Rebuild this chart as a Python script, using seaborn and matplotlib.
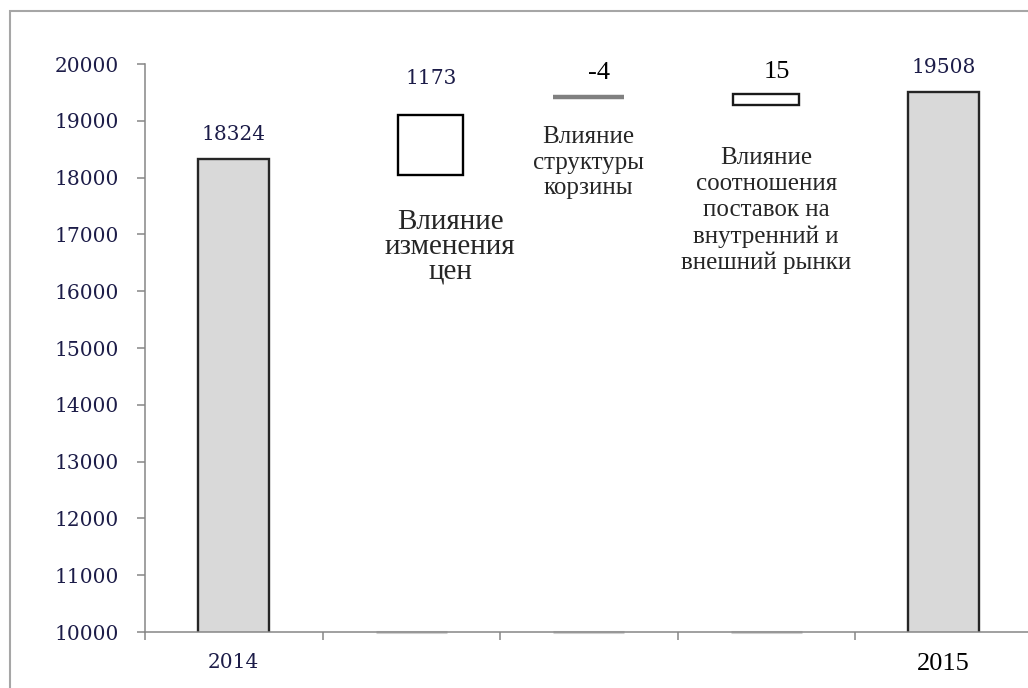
import numpy as np
import seaborn as sns
import pandas as pd
import matplotlib.pyplot as plt
from matplotlib.patches import Rectangle

# data
categories = ['2014', 'price', 'structure', 'ratio', '2015']
totals = [18324, 0, 0, 0, 19508]
effects = [1173, -4, 15]
effect_labels = ['Влияние\nизменения\nцен',
                 'Влияние\nструктуры\nкорзины',
                 'Влияние\nсоотношения\nпоставок на\nвнутренний и\nвнешний рынки']
# where the floating markers sit on the value axis (as drawn in the picture)
float_bottom = [18046, 19421, 19278]
float_top = [19102, 19417, 19472]

NAVY = '#1c1c48'
GRID = '#868686'

sns.set_style('white')
fig = plt.figure(figsize=(10.28, 6.88), dpi=100)
ax = fig.add_axes([145 / 1028, 56 / 688, 887.5 / 1028, 568 / 688])

df = pd.DataFrame({'cat': categories, 'val': totals})
sns.barplot(data=df, x='cat', y='val', order=categories, width=0.4,
            color='#d9d9d9', saturation=1, edgecolor='#262626',
            linewidth=1.7, ax=ax)

# floating effect markers
fx = [1.108, 2.0, 3.0]
fw = [0.366, 0.40, 0.37]
fb = np.array(float_bottom)
ft = np.array(float_top)
ax.bar(fx[0], ft[0] - fb[0], bottom=fb[0], width=fw[0], color='white',
       edgecolor='black', linewidth=1.7, zorder=3)
ax.bar(fx[1], ft[1] - fb[1], bottom=fb[1], width=fw[1], color='#808080',
       edgecolor='#808080', linewidth=3.2, zorder=3)
ax.bar(fx[2], ft[2] - fb[2], bottom=fb[2], width=fw[2], color='white',
       edgecolor='#1a1a1a', linewidth=1.7, zorder=3)

# empty base series sitting on the axis
ax.bar([1, 2, 3], [0, 0, 0], bottom=10000, width=0.4, color='none',
       edgecolor='#d0d0d0', linewidth=2.2, clip_on=False, zorder=1)

ax.set_ylim(10000, 20000)
ax.set_xlim(-0.5, 4.5)
ax.set_yticks(np.arange(10000, 20001, 1000))
ax.set_xticks(range(5))
ax.set_xticklabels(['2014', '', '', '', '2015'])
ax.set_xticks(np.arange(-0.5, 4.6, 1), minor=True)
ax.set_xlabel('')
ax.set_ylabel('')

for s in ['top', 'right']:
    ax.spines[s].set_visible(False)
for s in ['left', 'bottom']:
    ax.spines[s].set_color(GRID)
    ax.spines[s].set_linewidth(1.1)

ax.tick_params(axis='y', which='major', direction='out', length=6, width=1.1,
               color=GRID, pad=13, labelsize=14.5, labelcolor=NAVY, left=True)
ax.tick_params(axis='x', which='major', length=0, pad=15)
ax.tick_params(axis='x', which='minor', direction='out', length=6, width=1.1,
               color=GRID, bottom=True)
for t in ax.get_yticklabels():
    t.set_family('DejaVu Serif')

xt = ax.get_xticklabels()
xt[0].set_family('DejaVu Serif')
xt[0].set_fontsize(14.5)
xt[0].set_color(NAVY)
xt[4].set_family('Liberation Serif')
xt[4].set_fontsize(19)
xt[4].set_color('black')

# value labels
ax.text(0, 18750, f'{totals[0]}', ha='center', va='center',
        family='DejaVu Serif', fontsize=14.5, color=NAVY)
ax.text(4, 19947, f'{totals[4]}', ha='center', va='center',
        family='DejaVu Serif', fontsize=14.5, color=NAVY)
ax.text(1.11, 19736, f'{effects[0]}', ha='center', va='center',
        family='DejaVu Serif', fontsize=14.5, color=NAVY)
ax.text(2.06, 19842, f'{effects[1]}', ha='center', va='center',
        family='Liberation Serif', fontsize=19, color='black')
ax.text(3.06, 19859, f'{effects[2]}', ha='center', va='center',
        family='Liberation Serif', fontsize=19, color='black')

# effect captions
ax.text(1.22, 16780, effect_labels[0], ha='center', va='center',
        family='Liberation Serif', fontsize=21, linespacing=0.95)
ax.text(2.0, 18260, effect_labels[1], ha='center', va='center',
        family='Liberation Serif', fontsize=18, linespacing=1.2)
ax.text(3.0, 17420, effect_labels[2], ha='center', va='center',
        family='Liberation Serif', fontsize=18, linespacing=1.24)

# outer frame of the chart area
fig.add_artist(Rectangle((10 / 1028, -0.1), 1.2, 1.1 - 11 / 688,
                         transform=fig.transFigure, fill=False,
                         edgecolor='#a6a6a6', linewidth=1.5))

plt.savefig('out.png', dpi=100)
